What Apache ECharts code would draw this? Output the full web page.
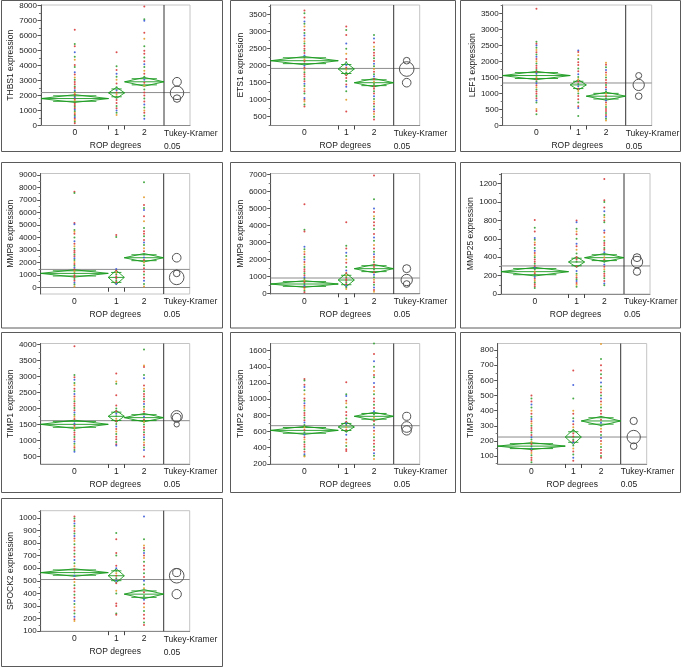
<!DOCTYPE html>
<html><head><meta charset="utf-8">
<script src="https://cdn.jsdelivr.net/npm/echarts@6/dist/echarts.min.js"></script>
<style>html,body{margin:0;padding:0;background:#fff}#c{width:684px;height:668px}</style>
</head><body><div id="c"></div><script>
// ---------- data ----------
const groupNames = ['0', '1', '2'];
const groupN = [84, 20, 49];
const genes = ['THBS1', 'ETS1', 'LEF1', 'MMP8', 'MMP9', 'MMP25', 'TIMP1', 'TIMP2', 'TIMP3', 'SPOCK2'];
const groupMeans = [
  [1800, 2180, 2920], [2147, 1902, 1500], [1563, 1270, 917], [1141, 823, 2390], [550, 786, 1455],
  [243, 348, 395], [1506, 1758, 1716], [614, 656, 788], [166, 226, 332], [565, 540, 394]
];
const ciHalf = [
  [260, 370, 290], [122, 186, 122], [130, 161, 125], [292, 560, 332], [197, 393, 246],
  [47, 58, 45], [131, 183, 131], [50, 62, 50], [23, 49, 30], [30, 55, 36]
];
const grandMeans = [2200, 1920, 1330, 1460, 904, 305, 1621, 672, 226, 510];
const tukeyRadius = [
  [250, 450, 290], [98, 215, 127], [94, 177, 104], [265, 580, 345], [197, 334, 236],
  [40, 62, 43], [84, 178, 136], [58, 66, 50], [22, 44, 24], [32, 58, 37]
];
const yMin = [0, 241, 0, -500, -40, 0, 264, 198, 48, 100];
const yMax = [8050, 3785, 3770, 9100, 7070, 1310, 4038, 1689, 843, 1056];
const yTicks = [
  [0, 1000, 2000, 3000, 4000, 5000, 6000, 7000, 8000],
  [500, 1000, 1500, 2000, 2500, 3000, 3500],
  [0, 500, 1000, 1500, 2000, 2500, 3000, 3500],
  [0, 1000, 2000, 3000, 4000, 5000, 6000, 7000, 8000, 9000],
  [0, 1000, 2000, 3000, 4000, 5000, 6000, 7000],
  [0, 200, 400, 600, 800, 1000, 1200],
  [500, 1000, 1500, 2000, 2500, 3000, 3500, 4000],
  [200, 400, 600, 800, 1000, 1200, 1400, 1600],
  [100, 200, 300, 400, 500, 600, 700, 800],
  [100, 200, 300, 400, 500, 600, 700, 800, 900, 1000]
];
const pts_THBS1 = [
  [6400, 5450, 5300, 4900, 4600, 4400, 4050, 3900, 3550, 3400, 3200, 3050, 2900, 2750, 2600, 2500, 2350, 2250, 2150, 2050, 1950, 1850, 1750, 1650, 1550, 1450, 1350, 1250, 1150, 1050, 950, 850, 750, 650, 550, 450, 350, 250, 150],
  [4900, 3950, 3700, 3450, 3250, 3050, 2800, 2550, 2350, 2200, 2050, 1900, 1700, 1500, 1300, 1150, 1000, 850, 700],
  [7950, 7100, 7000, 6200, 5800, 5300, 5000, 4800, 4550, 4300, 4100, 3900, 3650, 3450, 3250, 3050, 2850, 2650, 2400, 2200, 2000, 1800, 1600, 1400, 1200, 1000, 850, 650, 450]
];
const pts_ETS1 = [
  [3620, 3540, 3420, 3300, 3230, 3150, 3050, 2960, 2890, 2800, 2720, 2650, 2580, 2500, 2440, 2370, 2300, 2240, 2180, 2120, 2060, 2000, 1940, 1880, 1810, 1750, 1680, 1610, 1540, 1470, 1400, 1320, 1250, 1180, 1050, 1000, 950, 860, 800],
  [3150, 3050, 2900, 2650, 2500, 2350, 2200, 2100, 2020, 1950, 1880, 1800, 1720, 1640, 1550, 1450, 1380, 1250, 1000, 650],
  [2900, 2800, 2680, 2560, 2470, 2380, 2300, 2220, 2140, 2060, 1980, 1900, 1820, 1750, 1680, 1600, 1530, 1460, 1390, 1320, 1250, 1180, 1100, 1020, 950, 880, 800, 720, 650, 580, 500, 420]
];
const pts_LEF1 = [
  [3650, 2620, 2560, 2500, 2430, 2360, 2290, 2220, 2150, 2080, 2010, 1940, 1870, 1800, 1740, 1680, 1620, 1560, 1500, 1440, 1380, 1320, 1260, 1200, 1130, 1060, 990, 920, 850, 780, 720, 520, 450, 350],
  [2350, 2300, 2200, 2080, 1980, 1890, 1780, 1700, 1600, 1520, 1450, 1380, 1300, 1230, 1150, 1080, 1000, 920, 820, 720, 600, 550, 300],
  [1960, 1900, 1820, 1740, 1660, 1580, 1500, 1420, 1340, 1270, 1200, 1130, 1060, 990, 920, 850, 780, 720, 650, 580, 520, 450, 390, 330, 270, 210, 160]
];
const pts_MMP8 = [
  [7650, 7550, 5150, 5050, 4600, 4450, 4300, 4000, 3700, 3500, 3300, 3100, 2950, 2800, 2650, 2500, 2350, 2200, 2050, 1900, 1750, 1600, 1450, 1300, 1150, 1000, 850, 700, 550, 400, 250, 100],
  [4200, 4050, 1500, 1350, 1200, 1050, 900, 750, 600, 450, 300],
  [8400, 7200, 6600, 6350, 6200, 5700, 5300, 4750, 4500, 4300, 4100, 3800, 3600, 3400, 3150, 2900, 2650, 2400, 2200, 2000, 1800, 1550, 1300, 1050, 800, 550, 300, 100]
];
const pts_MMP9 = [
  [5250, 3750, 3650, 2750, 2600, 2450, 2300, 2150, 2000, 1850, 1700, 1550, 1420, 1300, 1180, 1060, 950, 850, 750, 650, 550, 450, 350, 250, 150, 60],
  [4200, 2800, 2650, 2400, 2200, 2000, 1800, 1550, 1350, 1200, 1050, 950, 850, 750, 650, 550, 450, 350, 250],
  [6950, 5550, 5000, 4800, 4550, 4400, 4200, 4000, 3800, 3500, 3300, 3100, 2850, 2650, 2450, 2300, 2150, 2000, 1850, 1700, 1550, 1400, 1250, 1100, 950, 800, 650, 500, 350, 200, 100]
];
const pts_MMP25 = [
  [805, 720, 680, 610, 590, 560, 535, 500, 470, 445, 420, 400, 375, 350, 330, 305, 285, 265, 245, 225, 205, 185, 165, 145, 125, 105, 85, 65],
  [800, 780, 710, 680, 650, 600, 545, 520, 480, 440, 400, 375, 350, 300, 250, 220, 200, 180, 160, 140, 120, 100, 80],
  [1250, 1020, 1000, 940, 900, 860, 835, 800, 780, 690, 665, 620, 580, 555, 530, 500, 480, 455, 430, 400, 375, 350, 320, 295, 270, 245, 220, 195, 170, 140, 115, 95]
];
const pts_TIMP1 = [
  [3950, 3050, 2980, 2900, 2800, 2730, 2620, 2540, 2460, 2380, 2300, 2230, 2160, 2090, 2020, 1950, 1880, 1810, 1740, 1670, 1600, 1530, 1460, 1390, 1320, 1250, 1180, 1110, 1040, 970, 900, 830, 770, 700, 650],
  [3100, 2850, 2780, 2420, 2100, 2000, 1920, 1840, 1760, 1680, 1600, 1520, 1440, 1360, 1280, 1200, 1120, 1040, 950, 880, 840],
  [3850, 3350, 3300, 3050, 2950, 2720, 2620, 2540, 2460, 2380, 2300, 2220, 2140, 2060, 1980, 1900, 1820, 1740, 1660, 1580, 1500, 1420, 1340, 1260, 1180, 1100, 1020, 940, 860, 780, 700, 500]
];
const pts_TIMP2 = [
  [1250, 1230, 1180, 1150, 1110, 1060, 1010, 980, 950, 920, 890, 860, 830, 800, 770, 740, 710, 680, 650, 620, 590, 560, 530, 500, 470, 440, 410, 380, 350, 320, 300, 290],
  [1210, 1060, 1040, 980, 950, 900, 840, 800, 760, 720, 700, 680, 650, 620, 600, 560, 500, 460, 420, 380, 360],
  [1690, 1560, 1470, 1400, 1350, 1300, 1270, 1200, 1150, 1100, 1060, 1010, 970, 930, 890, 850, 810, 770, 730, 690, 650, 610, 570, 530, 490, 450, 410, 370, 330, 300, 260]
];
const pts_TIMP3 = [
  [500, 480, 460, 440, 420, 400, 380, 360, 345, 330, 315, 300, 285, 270, 255, 240, 225, 210, 195, 180, 165, 150, 135, 120, 105, 90, 75, 60],
  [665, 570, 480, 400, 380, 350, 330, 310, 290, 270, 250, 230, 210, 200, 190, 170, 150, 130, 110, 90, 70],
  [840, 740, 700, 665, 640, 615, 585, 560, 540, 520, 500, 480, 460, 440, 420, 400, 380, 360, 340, 320, 300, 280, 260, 240, 220, 200, 180, 160, 140, 120, 100, 90]
];
const pts_SPOCK2 = [
  [1010, 995, 975, 955, 935, 915, 895, 875, 855, 835, 815, 790, 765, 740, 715, 690, 665, 640, 615, 590, 565, 540, 515, 490, 465, 440, 415, 390, 365, 340, 315, 290, 265, 240, 215, 195, 180],
  [880, 830, 720, 700, 620, 600, 580, 560, 540, 520, 500, 480, 420, 400, 320, 300, 240, 230],
  [1010, 830, 780, 760, 740, 720, 700, 680, 650, 620, 590, 560, 530, 500, 470, 440, 410, 380, 350, 320, 290, 260, 230, 200, 170, 150]
];
const allPoints = [pts_THBS1, pts_ETS1, pts_LEF1, pts_MMP8, pts_MMP9, pts_MMP25, pts_TIMP1, pts_TIMP2, pts_TIMP3, pts_SPOCK2];

// ---------- layout ----------
const axisX = [41, 270.7, 502.7, 40.7, 270.7, 501, 40.7, 270.7, 497.7, 40.7];
const plotTop = [5, 5, 5, 173.5, 173.5, 173.5, 343.5, 343.5, 343.5, 510.7];
const plotH = 120.5, groupW = 123, tukeyW = 26;
const panelRects = [
  [1.5, 0.5, 221, 151], [230.5, 0.5, 225, 151], [460.5, 0.5, 220, 151],
  [1.5, 162.5, 221, 165.5], [230.5, 162.5, 225, 165.5], [460.5, 162.5, 220, 165.5],
  [1.5, 332.5, 221, 160], [230.5, 332.5, 225, 160], [460.5, 332.5, 220, 160],
  [1.5, 498.5, 221, 168]
];
const PAL = ['#d83a3a', '#34a034', '#3a5ad8', '#e39a2a'];
const colorSeq = [0, 1, 0, 2, 1, 3, 0, 1, 2, 0, 3, 1, 0];
const GREEN = '#1a9a1e';
const TXT = '#222';
const FONT = 'Liberation Sans, Arial';

const N = groupN.reduce((a, b) => a + b, 0);
const bounds = [0];
groupN.forEach(n => bounds.push(bounds[bounds.length - 1] + n / N));
const centers = groupN.map((n, i) => (bounds[i] + bounds[i + 1]) / 2);
const TW = tukeyW / groupW;
const XMAX = 1 + TW;

const grids = [], xAxes = [], yAxes = [], series = [], graphics = [];

genes.forEach((gene, p) => {
  grids.push({
    left: axisX[p], top: plotTop[p], width: groupW + tukeyW, height: plotH,
    show: true, borderColor: '#c4c4c4', borderWidth: 1, outerBoundsMode: 'none'
  });
  xAxes.push({
    gridIndex: p, type: 'value', min: 0, max: XMAX,
    splitLine: { show: false },
    axisLine: { show: true, lineStyle: { color: '#8a8a8a', width: 1 } },
    axisTick: { show: true, customValues: bounds.slice(1, groupN.length), length: 4, lineStyle: { color: '#444' } },
    axisLabel: {
      customValues: centers, fontSize: 8.5, color: TXT, margin: 3, fontFamily: FONT,
      formatter: v => {
        let best = 0;
        centers.forEach((c, i) => { if (Math.abs(c - v) < Math.abs(centers[best] - v)) best = i; });
        return groupNames[best];
      }
    },
    name: 'ROP degrees', nameLocation: 'middle', nameGap: 16,
    nameTextStyle: { fontSize: 8.5, color: TXT, fontFamily: FONT }
  });
  const ticks = yTicks[p];
  const step = ticks[1] - ticks[0];
  const minors = [];
  for (let v = ticks[0] - step / 2; v < yMax[p]; v += step) if (v > yMin[p]) minors.push(v);
  yAxes.push({
    gridIndex: p, type: 'value', min: yMin[p], max: yMax[p], position: 'left', offset: 0,
    splitLine: { show: false },
    axisLine: { show: true, lineStyle: { color: '#555' } },
    axisTick: { show: true, customValues: ticks, length: 3.5, lineStyle: { color: '#555' } },
    axisLabel: { customValues: ticks, fontSize: 8, color: TXT, margin: 4, fontFamily: FONT, formatter: v => String(Math.round(v)) },
    name: gene + ' expression', nameLocation: 'middle', nameGap: 23,
    nameTextStyle: { fontSize: 8.5, color: TXT, fontFamily: FONT }
  });
  yAxes.push({
    gridIndex: p, type: 'value', min: yMin[p], max: yMax[p], position: 'left', offset: 0,
    splitLine: { show: false }, axisLine: { show: false }, axisLabel: { show: false },
    axisTick: { show: true, customValues: minors, length: 2, lineStyle: { color: '#777' } }
  });
  const yi = 2 * p;

  // grand mean line + separator
  series.push({
    type: 'custom', xAxisIndex: p, yAxisIndex: yi, silent: true, z: 2,
    data: [[0, grandMeans[p]]], encode: { x: 0, y: 1 },
    renderItem: (params, api) => {
      const g = api.value(1);
      const a = api.coord([0, g]), b = api.coord([XMAX, g]);
      const s = api.coord([1, g]);
      const cs = params.coordSys;
      return {
        type: 'group', children: [
          { type: 'line', shape: { x1: a[0], y1: a[1], x2: b[0], y2: b[1] }, style: { stroke: '#8c8c8c', lineWidth: 1 } },
          { type: 'line', shape: { x1: s[0], y1: cs.y, x2: s[0], y2: cs.y + cs.height }, style: { stroke: '#333', lineWidth: 1 } }
        ]
      };
    }
  });

  // means diamonds
  series.push({
    type: 'custom', xAxisIndex: p, yAxisIndex: yi, silent: true, z: 3,
    data: groupMeans[p].map((m, i) => [bounds[i], bounds[i + 1], m, ciHalf[p][i]]),
    encode: { x: [0, 1], y: 2 },
    renderItem: (params, api) => {
      const x0 = api.value(0), x1 = api.value(1), m = api.value(2), c = api.value(3);
      const xm = (x0 + x1) / 2;
      const L = api.coord([x0, m]), R = api.coord([x1, m]);
      const T = api.coord([xm, m + c]), B = api.coord([xm, m - c]);
      const o = c / Math.SQRT2;
      const yu = api.coord([xm, m + o])[1], yd = api.coord([xm, m - o])[1];
      const w = R[0] - L[0];
      const ox0 = L[0] + w * 0.18, ox1 = R[0] - w * 0.18;
      const st = { stroke: GREEN, lineWidth: 0.9, fill: null };
      return {
        type: 'group', children: [
          { type: 'polygon', shape: { points: [L, T, R, B] }, style: st },
          { type: 'line', shape: { x1: L[0], y1: L[1], x2: R[0], y2: R[1] }, style: st },
          { type: 'line', shape: { x1: ox0, y1: yu, x2: ox1, y2: yu }, style: st },
          { type: 'line', shape: { x1: ox0, y1: yd, x2: ox1, y2: yd }, style: st }
        ]
      };
    }
  });

  // data points
  const pdata = [];
  allPoints[p].forEach((arr, g) => arr.forEach(v => pdata.push([centers[g], v])));
  series.push({
    type: 'scatter', xAxisIndex: p, yAxisIndex: yi, silent: true, z: 4,
    symbol: 'circle', symbolSize: 2,
    itemStyle: { color: prm => PAL[colorSeq[prm.dataIndex % colorSeq.length]], opacity: 0.9 },
    data: pdata
  });

  // Tukey-Kramer comparison circles
  series.push({
    type: 'custom', xAxisIndex: p, yAxisIndex: yi, silent: true, z: 3,
    data: groupMeans[p].map((m, i) => [1 + TW / 2, m, tukeyRadius[p][i]]),
    encode: { x: 0, y: 1 },
    renderItem: (params, api) => {
      const c = api.coord([api.value(0), api.value(1)]);
      const r = Math.abs(api.coord([api.value(0), api.value(1) + api.value(2)])[1] - c[1]);
      return { type: 'circle', shape: { cx: c[0], cy: c[1], r: r }, style: { stroke: '#555', lineWidth: 1, fill: null } };
    }
  });

  // panel frame and Tukey labels
  const pr = panelRects[p];
  graphics.push({ type: 'rect', shape: { x: pr[0], y: pr[1], width: pr[2], height: pr[3] }, style: { stroke: '#5a5a5a', lineWidth: 1, fill: null }, silent: true });
  const sx = axisX[p] + groupW, by = plotTop[p] + plotH;
  graphics.push({ type: 'text', x: sx, y: by + 8, style: { text: 'Tukey-Kramer', fontSize: 8.5, fill: TXT, fontFamily: FONT, verticalAlign: 'middle' }, silent: true });
  graphics.push({ type: 'text', x: sx, y: by + 21, style: { text: '0.05', fontSize: 8.5, fill: TXT, fontFamily: FONT, verticalAlign: 'middle' }, silent: true });
});

const chart = echarts.init(document.getElementById('c'), null, { renderer: 'canvas' });
chart.setOption({
  backgroundColor: '#ffffff',
  animation: false,
  grid: grids, xAxis: xAxes, yAxis: yAxes, series: series,
  graphic: { elements: graphics }
});
</script></body></html>
